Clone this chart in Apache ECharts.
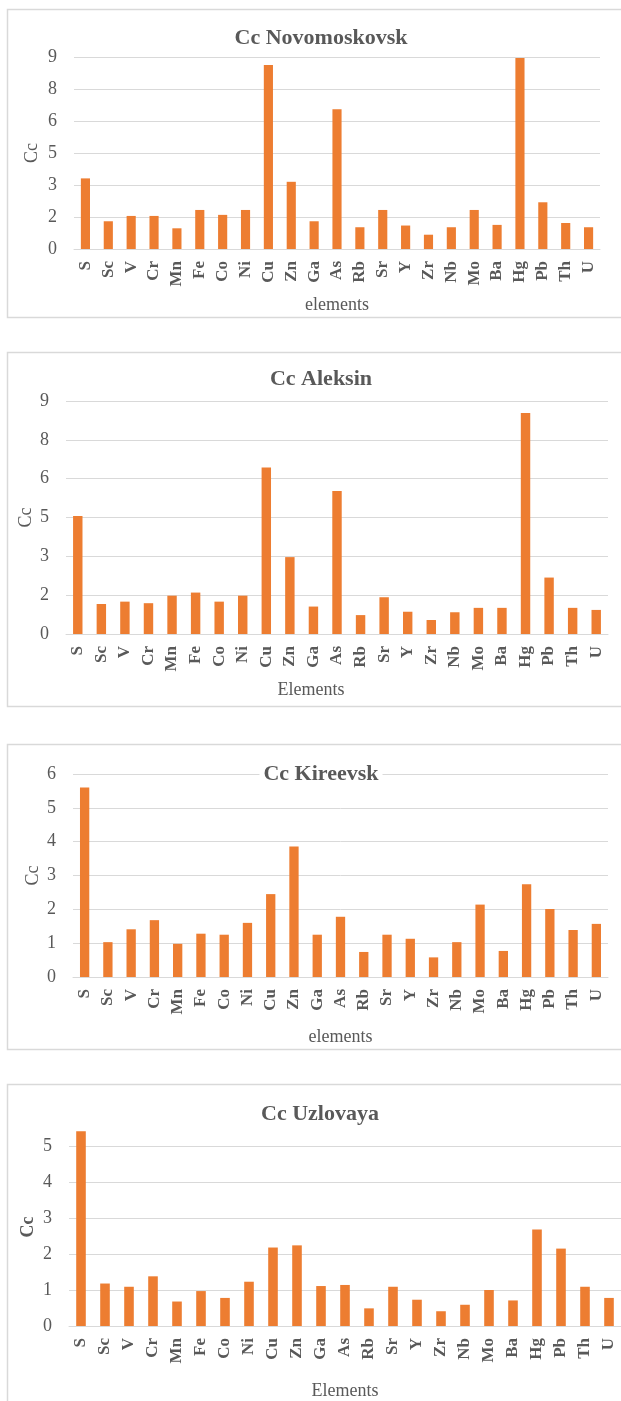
<!DOCTYPE html>
<html>
<head>
<meta charset="utf-8">
<script src="https://cdn.jsdelivr.net/npm/echarts@6/dist/echarts.min.js"></script>
<style>
html,body{margin:0;padding:0;background:#fff;}
#c{width:621px;height:1401px;}
</style>
</head>
<body>
<div id="c"></div>
<script>
const elements = ['S','Sc','V','Cr','Mn','Fe','Co','Ni','Cu','Zn','Ga','As','Rb','Sr','Y','Zr','Nb','Mo','Ba','Hg','Pb','Th','U'];
const novomoskovsk = [3.31,1.30,1.55,1.55,0.97,1.83,1.60,1.83,8.63,3.15,1.30,6.55,1.02,1.83,1.10,0.67,1.02,1.83,1.13,8.95,2.19,1.22,1.02];
const aleksin = [4.56,1.16,1.25,1.19,1.48,1.60,1.25,1.48,6.43,2.97,1.06,5.52,0.73,1.42,0.86,0.54,0.84,1.01,1.01,8.54,2.18,1.01,0.93];
const kireevsk = [5.60,1.03,1.41,1.68,0.98,1.28,1.25,1.60,2.45,3.86,1.25,1.78,0.74,1.25,1.13,0.58,1.03,2.14,0.77,2.74,2.01,1.39,1.57];
const uzlovaya = [5.41,1.18,1.09,1.38,0.68,0.97,0.78,1.23,2.18,2.24,1.11,1.14,0.49,1.09,0.73,0.41,0.59,1.00,0.71,2.68,2.15,1.09,0.78];
const chartTitles = ['Cc Novomoskovsk','Cc Aleksin','Cc Kireevsk','Cc Uzlovaya'];
const xAxisNames = ['elements','Elements','elements','Elements'];
const yAxisName = 'Cc';
const yMax = [9, 9, 6, 5];
const yInterval = [1.5, 1.5, 1, 1];

const seriesData = [novomoskovsk, aleksin, kireevsk, uzlovaya];

// layout (pixels)
const layout = [
  {box:[7,9,640,308],  grid:{left:74,top:57,width:526,height:192},  titleY:38,  titleX:317, xGap:47, xPad:[0,0,0,0],  yGap:33, yPad:[0,0,0,0],  yBold:false},
  {box:[7,352,640,354],grid:{left:66,top:401,width:542,height:233}, titleY:379, titleX:317, xGap:47, xPad:[0,52,0,0], yGap:31, yPad:[0,0,0,0],  yBold:false},
  {box:[7,744,640,305],grid:{left:73,top:774,width:535,height:203}, titleY:774, titleX:317, xGap:51, xPad:[0,0,0,0],  yGap:31, yPad:[0,0,0,0],  yBold:false},
  {box:[7,1084,640,340],grid:{left:69,top:1146,width:553,height:182},titleY:1114,titleX:316,xGap:56, xPad:[0,0,0,0],  yGap:32, yPad:[0,0,0,18], yBold:true}
];

const FONT = '"Liberation Serif", "Times New Roman", serif';
const TXT = '#595959';

const chart = echarts.init(document.getElementById('c'), null, {renderer:'canvas'});

const option = {
  backgroundColor:'#fff',
  animation:false,
  textStyle:{fontFamily:FONT},
  title: layout.map((l,i)=>({
    text: chartTitles[i],
    left: l.titleX, textAlign:'center',
    top: l.titleY - 13,
    padding:[0,4,0,4],
    backgroundColor: i===2 ? '#fff' : 'transparent',
    textStyle:{fontFamily:FONT,fontWeight:'bold',fontSize:22,color:TXT,lineHeight:26}
  })),
  graphic: layout.map(l=>({
    type:'rect', silent:true, z:-10,
    shape:{x:l.box[0]+0.5,y:l.box[1]+0.5,width:l.box[2],height:l.box[3]},
    style:{fill:'#fff',stroke:'#D9D9D9',lineWidth:1.5}
  })),
  grid: layout.map(l=>Object.assign({containLabel:false}, l.grid)),
  xAxis: layout.map((l,i)=>({
    type:'category', gridIndex:i, data:elements,
    name: xAxisNames[i], nameLocation:'middle', nameGap:l.xGap, nameMoveOverlap:false,
    nameTextStyle:{fontFamily:FONT,fontSize:18,color:TXT,padding:l.xPad},
    axisLine:{show:true,lineStyle:{color:'#D9D9D9',width:1}},
    axisTick:{show:false},
    axisLabel:{rotate:90,interval:0,margin:12,fontFamily:FONT,fontWeight:'bold',fontSize:17,color:TXT}
  })),
  yAxis: layout.map((l,i)=>({
    type:'value', gridIndex:i, min:0, max:yMax[i], interval:yInterval[i],
    name: yAxisName, nameLocation:'middle', nameGap:l.yGap, nameRotate:90, nameMoveOverlap:false,
    nameTextStyle:{fontFamily:FONT,fontSize:18,color:TXT,fontWeight:l.yBold?'bold':'normal',padding:l.yPad},
    axisLine:{show:false}, axisTick:{show:false},
    splitLine:{show:true,lineStyle:{color:'#D9D9D9',width:1}},
    axisLabel:{margin:17,fontFamily:FONT,fontSize:18,color:TXT,
      formatter:v=>String(Math.round(v))}
  })),
  series: seriesData.map((d,i)=>({
    type:'bar', xAxisIndex:i, yAxisIndex:i, data:d,
    barWidth:'40%', clip:false,
    itemStyle:{color:'#ED7D31'}
  }))
};
chart.setOption(option);
</script>
</body>
</html>
